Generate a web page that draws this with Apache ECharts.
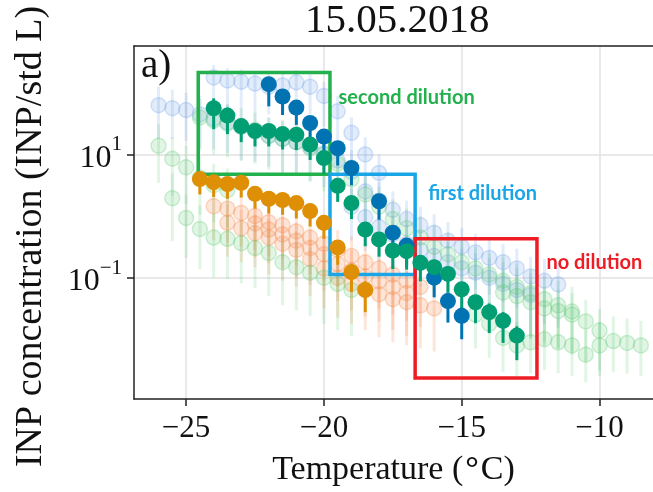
<!DOCTYPE html>
<html><head><meta charset="utf-8">
<script src="https://cdn.jsdelivr.net/npm/echarts@6/dist/echarts.min.js"></script>
<style>html,body{margin:0;padding:0;background:#fff}#c{width:653px;height:492px}</style>
</head><body><div id="c"></div>
<script>
// ---- data (temperature in °C, concentration as log10(INP / std L)) ----
const xTicks = [-25, -20, -15, -10];
const yTicks = [-1, 1];

// bold series
const blueT = [-22, -21.5, -21, -20.5, -20, -19.5, -19, -18, -17.5, -17, -16, -15.5, -15];
const blueL = [2.14, 1.94, 1.76, 1.51, 1.29, 1.10, 0.78, 0.24, -0.27, -0.48, -1.00, -1.38, -1.62];
const blueUp = [0.1, 0.1, 0.1, 0.1, 0.1, 0.1, 0.1, 0.12, 0.12, 0.12, 0.14, 0.14, 0.15];
const blueDn = [0.36, 0.3, 0.28, 0.26, 0.26, 0.28, 0.28, 0.3, 0.3, 0.32, 0.32, 0.35, 0.38];

const greenT = [-24, -23.5, -23, -22.5, -22, -21.5, -21, -20.5, -20, -19.5, -19, -18.5, -18, -17.5, -17, -16.5, -16, -15.5, -15, -14.5, -14, -13.5, -13];
const greenL = [1.75, 1.63, 1.46, 1.38, 1.38, 1.33, 1.32, 1.16, 0.94, 0.49, 0.21, -0.22, -0.38, -0.56, -0.57, -0.76, -0.83, -0.94, -1.19, -1.40, -1.56, -1.70, -1.94];
const greenUp = [0.16, 0.13, 0.1, 0.1, 0.1, 0.1, 0.1, 0.1, 0.1, 0.1, 0.1, 0.1, 0.1, 0.12, 0.12, 0.12, 0.12, 0.12, 0.12, 0.12, 0.14, 0.14, 0.15];
const greenDn = [0.34, 0.3, 0.26, 0.25, 0.25, 0.25, 0.25, 0.25, 0.26, 0.26, 0.26, 0.27, 0.28, 0.3, 0.3, 0.3, 0.3, 0.3, 0.32, 0.34, 0.34, 0.36, 0.4];

const orangeT = [-24.5, -24, -23.5, -23, -22.5, -22, -21.5, -21, -20.5, -20, -19.5, -19, -18.5];
const orangeL = [0.60, 0.55, 0.52, 0.54, 0.36, 0.28, 0.26, 0.21, 0.08, -0.11, -0.51, -0.91, -1.20];
const orangeUp = [0.08, 0.08, 0.08, 0.08, 0.08, 0.08, 0.08, 0.08, 0.1, 0.1, 0.12, 0.12, 0.14];
const orangeDn = [0.25, 0.24, 0.24, 0.24, 0.24, 0.24, 0.24, 0.25, 0.25, 0.26, 0.28, 0.32, 0.36];

// faded (background) series
const fb1T = [-26, -25.5, -25, -24.5, -24, -23.5, -23, -22.5, -22, -21.5, -21, -20.5, -20, -19.5, -19];
const fb1L = [1.80, 1.75, 1.72, 1.65, 1.58, 1.52, 1.45, 1.38, 1.30, 1.25, 1.20, 1.12, 1.02, 0.90, 0.72];
const fb1Up = [0.3, 0.3, 0.28, 0.3, 0.3, 0.3, 0.28, 0.3, 0.3, 0.3, 0.3, 0.3, 0.32, 0.32, 0.35];
const fb1Dn = [0.55, 0.5, 0.5, 0.55, 0.5, 0.5, 0.55, 0.5, 0.5, 0.55, 0.5, 0.55, 0.55, 0.6, 0.6];

const fb2T = [-24, -23.5, -23, -22.5, -22, -21.5, -21, -20.5, -20, -19.5, -19, -18.5, -18];
const fb2L = [2.25, 2.20, 2.18, 2.15, 2.10, 2.12, 2.17, 2.10, 1.95, 1.70, 1.35, 1.00, 0.70];
const fb2Up = [0.2, 0.2, 0.2, 0.2, 0.2, 0.2, 0.2, 0.2, 0.22, 0.25, 0.25, 0.28, 0.3];
const fb2Dn = [0.45, 0.45, 0.45, 0.45, 0.45, 0.45, 0.45, 0.45, 0.5, 0.5, 0.55, 0.55, 0.6];

const fb3T = [-18.5, -18, -17.5, -17, -16.5, -16, -15.5, -15, -14.5, -14, -13.5, -13, -12.5, -12, -11.5];
const fb3L = [0.40, 0.25, 0.10, -0.05, -0.15, -0.27, -0.40, -0.50, -0.59, -0.68, -0.75, -0.85, -0.98, -1.05, -1.11];
const fb3Up = [0.3, 0.3, 0.3, 0.3, 0.3, 0.3, 0.3, 0.3, 0.3, 0.3, 0.3, 0.32, 0.32, 0.35, 0.35];
const fb3Dn = [0.55, 0.55, 0.55, 0.55, 0.55, 0.6, 0.6, 0.6, 0.6, 0.6, 0.65, 0.65, 0.7, 0.7, 0.7];

const fb4T = [-19, -18.5, -18, -17.5, -17, -16.5, -16, -15.5, -15, -14.5, -14, -13.5, -13, -12.5];
const fb4L = [0.15, -0.02, -0.18, -0.30, -0.45, -0.55, -0.65, -0.75, -0.85, -0.92, -1.00, -1.10, -1.20, -1.28];
const fb4Up = [0.3, 0.3, 0.3, 0.3, 0.3, 0.3, 0.3, 0.32, 0.32, 0.32, 0.32, 0.35, 0.35, 0.35];
const fb4Dn = [0.55, 0.55, 0.55, 0.6, 0.6, 0.6, 0.6, 0.6, 0.6, 0.65, 0.65, 0.65, 0.7, 0.7];

const fg1T = [-26, -25.5, -25, -24.5, -24, -23.5];
const fg1L = [1.14, 0.93, 0.79, 0.62, 0.50, 0.42];
const fg1Up = [0.35, 0.35, 0.35, 0.35, 0.35, 0.35];
const fg1Dn = [0.6, 0.6, 0.6, 0.6, 0.6, 0.6];

const fg2T = [-25.5, -25, -24.5, -24, -23.5, -23, -22.5, -22, -21.5, -21, -20.5, -20, -19.5, -19];
const fg2L = [0.29, -0.03, -0.21, -0.35, -0.37, -0.44, -0.52, -0.60, -0.75, -0.83, -0.92, -1.00, -1.10, -1.20];
const fg2Up = [0.4, 0.38, 0.38, 0.38, 0.38, 0.38, 0.38, 0.38, 0.4, 0.4, 0.4, 0.4, 0.42, 0.42];
const fg2Dn = [0.7, 0.65, 0.65, 0.65, 0.65, 0.65, 0.65, 0.7, 0.7, 0.7, 0.7, 0.75, 0.75, 0.75];

const fg3T = [-24.5, -24, -23.5, -23, -22.5, -22, -21.5, -21, -20.5, -20, -19.5, -19, -18.5, -18, -17.5, -17, -16.5, -16, -15.5, -15, -14.5, -14, -13.5, -13, -12.5, -12, -11.5, -11];
const fg3L = [1.60, 1.55, 1.50, 1.45, 1.40, 1.30, 1.25, 1.20, 1.10, 1.00, 0.85, 0.60, 0.35, 0.15, -0.05, -0.20, -0.35, -0.50, -0.62, -0.75, -0.85, -0.95, -1.05, -1.15, -1.25, -1.35, -1.45, -1.55];
const fg3Up = [0.3, 0.3, 0.3, 0.3, 0.3, 0.3, 0.3, 0.3, 0.3, 0.3, 0.3, 0.32, 0.32, 0.32, 0.32, 0.32, 0.35, 0.35, 0.35, 0.35, 0.35, 0.35, 0.38, 0.38, 0.38, 0.38, 0.4, 0.4];
const fg3Dn = [0.55, 0.55, 0.55, 0.55, 0.55, 0.55, 0.55, 0.55, 0.55, 0.6, 0.6, 0.6, 0.6, 0.6, 0.6, 0.6, 0.65, 0.65, 0.65, 0.65, 0.65, 0.65, 0.7, 0.7, 0.7, 0.7, 0.7, 0.7];

const fg4T = [-13.5, -13, -12.5, -12, -11.5, -11, -10.5, -10];
const fg4L = [-1.24, -1.30, -1.40, -1.50, -1.54, -1.60, -1.71, -1.86];
const fg4Up = [0.35, 0.35, 0.35, 0.35, 0.35, 0.35, 0.35, 0.35];
const fg4Dn = [0.6, 0.6, 0.6, 0.6, 0.6, 0.6, 0.65, 0.65];

const fg5T = [-14.5, -14, -13.5, -13, -12.5, -12, -11.5, -11, -10.5, -10, -9.5, -9, -8.5];
const fg5L = [-1.60, -1.75, -1.98, -2.10, -2.05, -2.00, -2.05, -2.10, -2.25, -2.10, -2.03, -2.06, -2.10];
const fg5Up = [0.35, 0.35, 0.35, 0.38, 0.38, 0.38, 0.38, 0.38, 0.4, 0.38, 0.4, 0.4, 0.4];
const fg5Dn = [0.55, 0.55, 0.55, 0.5, 0.5, 0.5, 0.5, 0.5, 0.45, 0.5, 0.5, 0.5, 0.5];

const fo1T = [-24, -23.5, -23, -22.5, -22, -21.5, -21, -20.5, -20, -19.5, -19, -18.5, -18, -17.5, -17, -16.5];
const fo1L = [0.16, 0.12, 0.05, 0.00, -0.10, -0.15, -0.25, -0.35, -0.45, -0.55, -0.65, -0.75, -0.85, -0.95, -1.05, -1.15];
const fo1Up = [0.3, 0.3, 0.3, 0.3, 0.3, 0.3, 0.3, 0.3, 0.3, 0.32, 0.32, 0.32, 0.32, 0.35, 0.35, 0.35];
const fo1Dn = [0.55, 0.55, 0.55, 0.55, 0.55, 0.55, 0.55, 0.6, 0.6, 0.6, 0.6, 0.6, 0.65, 0.65, 0.65, 0.65];

const fo2T = [-23.5, -23, -22.5, -22, -21.5, -21, -20.5, -20, -19.5, -19, -18.5, -18, -17.5, -17, -16.5, -16];
const fo2L = [-0.11, -0.20, -0.28, -0.35, -0.45, -0.55, -0.70, -0.85, -1.00, -1.10, -1.20, -1.27, -1.35, -1.40, -1.45, -1.50];
const fo2Up = [0.3, 0.3, 0.3, 0.3, 0.3, 0.3, 0.32, 0.32, 0.32, 0.35, 0.35, 0.35, 0.35, 0.35, 0.35, 0.35];
const fo2Dn = [0.55, 0.55, 0.55, 0.6, 0.6, 0.6, 0.6, 0.65, 0.65, 0.65, 0.65, 0.7, 0.7, 0.7, 0.7, 0.7];

const fo3T = [-22.5, -22, -21.5, -21, -20.5, -20, -19.5, -19, -18.5, -18, -17.5, -17];
const fo3L = [-0.12, -0.22, -0.30, -0.40, -0.52, -0.62, -0.78, -0.88, -0.98, -1.06, -1.15, -1.25];
const fo3Up = [0.3, 0.3, 0.3, 0.3, 0.3, 0.32, 0.32, 0.32, 0.35, 0.35, 0.35, 0.35];
const fo3Dn = [0.55, 0.55, 0.55, 0.6, 0.6, 0.6, 0.6, 0.65, 0.65, 0.65, 0.7, 0.7];

// annotation boxes: [T from, T to, log10 top, log10 bottom]
const boxSecond = [-24.56, -19.78, 2.33, 0.68];
const boxFirst = [-19.78, -16.69, 0.68, -0.95];
const boxNo = [-16.69, -12.27, -0.37, -2.63];

// ---- chart ----
const serif = '"Liberation Serif", "DejaVu Serif", serif';
const chart = echarts.init(document.getElementById('c'), null, {renderer: 'canvas'});

function errBars(T, L, up, dn, color, width, z) {
  return {
    type: 'custom', z: z, silent: true,
    data: T.map((t, i) => [t, L[i] - dn[i], L[i] + up[i]]),
    renderItem: function (params, api) {
      const p1 = api.coord([api.value(0), api.value(1)]);
      const p2 = api.coord([api.value(0), api.value(2)]);
      return {type: 'line', shape: {x1: p1[0], y1: p1[1], x2: p2[0], y2: p2[1]},
        style: {stroke: color, lineWidth: width}};
    }
  };
}
function points(T, L, fill, border, bw, size, z) {
  return {
    type: 'scatter', z: z, silent: true, symbol: 'circle', symbolSize: size,
    data: T.map((t, i) => [t, L[i]]),
    itemStyle: {color: fill, borderColor: border, borderWidth: bw, opacity: 1}
  };
}

const FB = ['rgba(110,160,230,0.20)', 'rgba(110,160,230,0.28)'];
const FG = ['rgba(90,200,110,0.18)', 'rgba(90,200,110,0.28)'];
const FO = ['rgba(245,140,80,0.22)', 'rgba(245,140,80,0.30)'];

const faded = [
  [fb1T, fb1L, fb1Up, fb1Dn, FB], [fb2T, fb2L, fb2Up, fb2Dn, FB], [fb3T, fb3L, fb3Up, fb3Dn, FB], [fb4T, fb4L, fb4Up, fb4Dn, FB],
  [fo1T, fo1L, fo1Up, fo1Dn, FO], [fo2T, fo2L, fo2Up, fo2Dn, FO], [fo3T, fo3L, fo3Up, fo3Dn, FO],
  [fg1T, fg1L, fg1Up, fg1Dn, FG], [fg2T, fg2L, fg2Up, fg2Dn, FG], [fg3T, fg3L, fg3Up, fg3Dn, FG],
  [fg4T, fg4L, fg4Up, fg4Dn, FG], [fg5T, fg5L, fg5Up, fg5Dn, FG]
];

const series = [];
faded.forEach(f => {
  series.push(errBars(f[0], f[1], f[2], f[3], f[4][0], 3, 2));
  series.push(points(f[0], f[1], f[4][0], f[4][1], 1.5, 15, 2));
});

function boxItem(b, color, text, pos) {
  return [{
    xAxis: b[0], yAxis: b[2],
    itemStyle: {color: 'rgba(0,0,0,0)', borderColor: color, borderWidth: 3.5},
    label: {show: true, formatter: text, position: pos, color: color, fontFamily: 'Lato', fontWeight: 'bold', fontSize: 20, align: 'left', verticalAlign: 'middle'}
  }, {xAxis: b[1], yAxis: b[3]}];
}
series.push({
  type: 'scatter', data: [], z: 3, silent: true,
  markArea: {
    silent: true, z: 3,
    data: [
      boxItem(boxSecond, '#22b14c', 'second dilution', [142, 27]),
      boxItem(boxFirst, '#1aa6e6', 'first dilution', [100, 21]),
      boxItem(boxNo, '#ee1c24', 'no dilution', [133, 25])
    ]
  }
});

const BOLD = [['#de8f05', orangeT, orangeL, orangeUp, orangeDn], ['#0173b2', blueT, blueL, blueUp, blueDn], ['#029e73', greenT, greenL, greenUp, greenDn]];
BOLD.forEach(b => {
  series.push(errBars(b[1], b[2], b[3], b[4], b[0], 3, 4));
  series.push(points(b[1], b[2], b[0], b[0], 0, 16, 5));
});

chart.setOption({
  animation: false,
  backgroundColor: '#fff',
  grid: {left: 134, right: 0, top: 46, bottom: 85, containLabel: false},
  graphic: [
    {type: 'text', left: 398 - 93, top: 1, style: {text: '15.05.2018', font: '41px ' + serif, fill: '#111'}},
    {type: 'text', left: 141, top: 47, z: 10, style: {text: 'a)', font: '39px ' + serif, fill: '#111'}}
  ],
  xAxis: [{
    type: 'value', min: -26.89, max: -8.06,
    name: 'Temperature ({d|°}C)', nameLocation: 'middle', nameGap: 54,
    nameTextStyle: {fontFamily: serif, fontSize: 34, color: '#111',
      rich: {d: {fontFamily: serif, fontSize: 34, fontWeight: 'bold', color: '#111', padding: [0, 2, 0, 2]}}},
    axisLine: {show: true, onZero: false, lineStyle: {color: '#222', width: 1.5}},
    axisTick: {show: true, customValues: xTicks, length: 7, lineStyle: {color: '#222', width: 1.5}},
    axisLabel: {customValues: xTicks, fontFamily: serif, fontSize: 31, color: '#111', margin: 14,
      formatter: v => (v < 0 ? '\u2212' + (-v) : '' + v)},
    splitLine: {show: true, lineStyle: {color: '#e2e2e2', width: 1.5}}
  }, {
    type: 'value', min: -26.89, max: -8.06, position: 'top',
    axisLine: {show: true, onZero: false, lineStyle: {color: '#222', width: 1.5}},
    axisTick: {show: false}, axisLabel: {show: false}, splitLine: {show: false}
  }],
  yAxis: {
    type: 'value', min: -2.97, max: 2.76,
    name: 'INP concentration (INP/std L)', nameLocation: 'middle', nameGap: 84,
    nameTextStyle: {fontFamily: serif, fontSize: 38, color: '#111', padding: [0, 28, 0, 0]},
    axisLine: {show: true, onZero: false, lineStyle: {color: '#222', width: 1.5}},
    axisTick: {show: true, customValues: yTicks, length: 7, lineStyle: {color: '#222', width: 1.5}},
    axisLabel: {customValues: yTicks, margin: 12,
      formatter: v => '{b|10}{s|' + (v < 0 ? '\u2212' + (-v) : '' + v) + '}',
      rich: {
        b: {fontFamily: serif, fontSize: 32, color: '#111', lineHeight: 40, verticalAlign: 'bottom'},
        s: {fontFamily: serif, fontSize: 21, color: '#111', lineHeight: 22, verticalAlign: 'top'}
      }},
    splitLine: {show: true, lineStyle: {color: '#e2e2e2', width: 1.5}}
  },
  series: series
});
</script></body></html>
